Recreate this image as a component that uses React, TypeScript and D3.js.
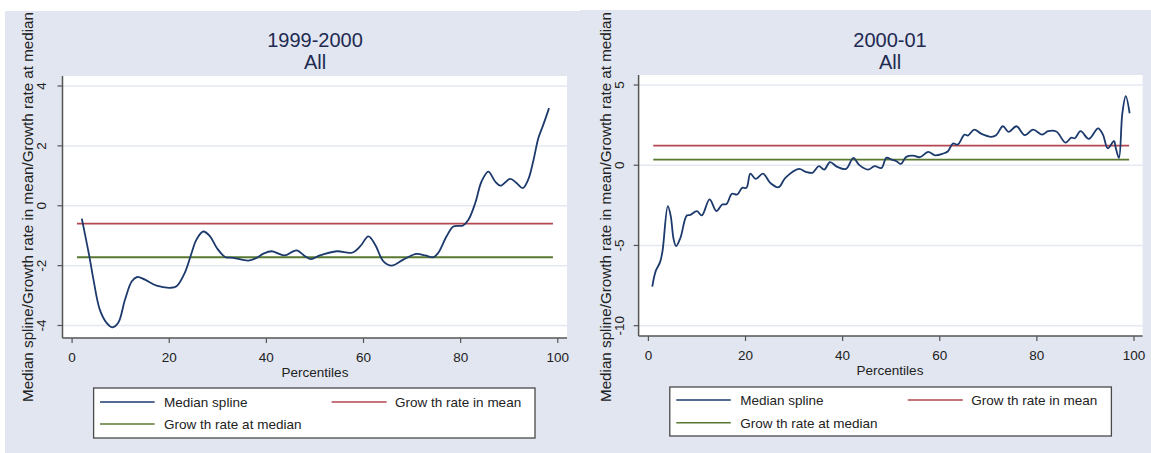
import React from "react";
import * as d3 from "d3";

// ---- Data ----
const titles1 = ["1999-2000", "All"];
const titles2 = ["2000-01", "All"];
const xTicks = [0, 20, 40, 60, 80, 100];
const yTicks1 = [-4, -2, 0, 2, 4];
const yTicks2 = [-10, -5, 0, 5];
const yTickLabels1 = ["-4", "-2", "0", "2", "4"];
const yTickLabels2 = ["-10", "-5", "0", "5"];

const pct1 = [2.0, 3.55, 4.4, 5.7, 7.1, 8.3, 9.5, 10.9, 12.3, 13.4, 15.0, 17.4, 20.2, 21.5, 23.2, 24.6, 25.6, 27.0, 28.4, 29.8, 31.5, 33.2, 36.3, 38.0, 39.4, 41.1, 42.5, 43.8, 46.2, 48.0, 49.2, 51.0, 54.5, 57.6, 59.3, 61.0, 62.4, 64.1, 65.8, 68.2, 70.9, 72.7, 74.4, 75.4, 77.1, 78.5, 80.5, 81.6, 83.0, 84.3, 85.7, 87.1, 88.2, 90.2, 91.5, 92.8, 93.9, 95.0, 96.0, 97.0, 98.2];
const val1 = [-0.43, -1.69, -2.47, -3.47, -3.91, -4.06, -3.91, -3.13, -2.52, -2.38, -2.47, -2.67, -2.74, -2.69, -2.24, -1.58, -1.13, -0.86, -1.02, -1.41, -1.71, -1.74, -1.83, -1.74, -1.6, -1.52, -1.6, -1.66, -1.49, -1.69, -1.78, -1.66, -1.52, -1.57, -1.36, -1.02, -1.3, -1.86, -2.0, -1.8, -1.61, -1.66, -1.72, -1.57, -1.02, -0.69, -0.66, -0.47, 0.09, 0.81, 1.14, 0.81, 0.67, 0.9, 0.76, 0.59, 0.87, 1.53, 2.26, 2.7, 3.26];
const mean1 = -0.6;
const median1 = -1.72;

const pct2 = [0.8, 1.5, 2.4, 2.9, 4.0, 4.6, 5.2, 5.7, 6.6, 7.9, 8.6, 10.0, 11.0, 12.6, 14.0, 15.2, 16.1, 17.2, 18.3, 19.3, 20.2, 21.0, 22.1, 23.6, 25.1, 26.8, 28.2, 31.0, 32.4, 33.8, 35.1, 36.2, 37.4, 38.9, 40.7, 42.2, 43.4, 45.2, 46.6, 48.0, 49.0, 50.1, 51.1, 52.0, 53.1, 54.5, 55.9, 57.6, 59.0, 60.7, 61.7, 62.7, 63.7, 65.1, 65.8, 67.1, 68.6, 70.6, 71.6, 73.0, 74.2, 75.8, 77.5, 79.2, 81.1, 82.3, 84.0, 85.9, 87.1, 87.8, 89.0, 90.7, 92.6, 93.6, 94.6, 95.9, 96.2, 96.9, 97.6, 98.3, 99.1];
const val2 = [-7.57, -6.6, -6.04, -5.36, -2.55, -3.17, -4.62, -5.04, -4.52, -3.13, -3.1, -2.86, -3.13, -2.13, -2.86, -2.45, -2.41, -1.78, -1.82, -1.41, -1.41, -0.52, -0.85, -0.52, -1.1, -1.37, -0.79, -0.23, -0.41, -0.47, -0.06, -0.27, 0.19, -0.1, -0.23, 0.46, 0.02, -0.27, -0.06, -0.17, 0.46, 0.35, 0.25, 0.08, 0.52, 0.6, 0.5, 0.83, 0.62, 0.73, 0.87, 1.35, 1.29, 1.91, 1.85, 2.22, 1.95, 1.77, 1.87, 2.43, 2.08, 2.43, 1.87, 2.22, 1.91, 2.12, 2.1, 1.41, 1.72, 1.68, 2.12, 1.64, 2.3, 1.91, 1.06, 1.51, 1.14, 0.46, 3.24, 4.31, 3.24];
const mean2 = 1.22;
const median2 = 0.35;

const refStart = 1;
const refEnd = 99;

const legendLabels = ["Median spline", "Grow th rate in mean", "Grow th rate at median"];
const yTitle = "Median spline/Growth rate in mean/Growth rate at median";
const xTitle = "Percentiles";

// ---- Styles ----
const FONT = "'Liberation Sans', Arial, Helvetica, sans-serif";
const BG = "#e1e6f0";
const GRID = "#e4e8f1";
const NAVY = "#1d3a6d";
const RED = "#b3464f";
const GREEN = "#58782f";
const TITLE_COL = "#1e2a52";
const TEXT_COL = "#222";
const AXIS_COL = "#555";

type PanelCfg = {
  bg: [number, number, number, number];
  plot: { l: number; r: number; t: number; b: number };
  xr: [number, number];
  yd: [number, number];
  yr: [number, number];
  titleX: number;
  yTitleX: number;
  yLabX: number;
  xLabY: number;
  xTitleY: number;
  legend: { x: number; y: number; w: number; h: number; r1: number; r2: number };
};

function Panel({ cfg, titles, pct, val, mean, median, yTicks, yLabels }: {
  cfg: PanelCfg; titles: string[]; pct: number[]; val: number[]; mean: number; median: number; yTicks: number[]; yLabels: string[];
}) {
  const x = d3.scaleLinear().domain([0, 100]).range(cfg.xr);
  const y = d3.scaleLinear().domain(cfg.yd).range(cfg.yr);
  const pts: [number, number][] = pct.map((p, i) => [p, val[i]]);
  const line = d3
    .line<[number, number]>()
    .x((d) => x(d[0]))
    .y((d) => y(d[1]))
    .curve(d3.curveCatmullRom.alpha(0.5));
  const { l, r, t, b } = cfg.plot;
  const L = cfg.legend;
  return (
    <g>
      <rect x={cfg.bg[0]} y={cfg.bg[1]} width={cfg.bg[2]} height={cfg.bg[3]} fill={BG} />
      <rect x={l} y={t} width={r - l} height={b - t} fill="#fff" />
      {yTicks.map((v) => (
        <line key={"g" + v} x1={l} x2={r} y1={y(v)} y2={y(v)} stroke={GRID} strokeWidth={1.5} />
      ))}
      {/* axes */}
      <line x1={l} x2={l} y1={t} y2={b} stroke={AXIS_COL} strokeWidth={1.5} />
      <line x1={l} x2={r} y1={b} y2={b} stroke={AXIS_COL} strokeWidth={1.5} />
      {yTicks.map((v, i) => (
        <g key={"yt" + v}>
          <line x1={l - 5} x2={l} y1={y(v)} y2={y(v)} stroke={AXIS_COL} strokeWidth={1.2} />
          <text
            transform={`translate(${cfg.yLabX},${y(v)}) rotate(-90)`}
            textAnchor="middle"
            fontSize={13.5}
            fill={TEXT_COL}
            fontFamily={FONT}
          >
            {yLabels[i]}
          </text>
        </g>
      ))}
      {xTicks.map((v) => (
        <g key={"xt" + v}>
          <line x1={x(v)} x2={x(v)} y1={b} y2={b + 5} stroke={AXIS_COL} strokeWidth={1.2} />
          <text x={x(v)} y={cfg.xLabY} textAnchor="middle" fontSize={13.5} fill={TEXT_COL} fontFamily={FONT}>
            {v}
          </text>
        </g>
      ))}
      {/* reference lines */}
      <line x1={x(refStart)} x2={x(refEnd)} y1={y(mean)} y2={y(mean)} stroke={RED} strokeWidth={1.8} />
      <line x1={x(refStart)} x2={x(refEnd)} y1={y(median)} y2={y(median)} stroke={GREEN} strokeWidth={1.8} />
      <path d={line(pts) || ""} fill="none" stroke={NAVY} strokeWidth={1.8} />
      {/* titles */}
      <text x={cfg.titleX} y={47} textAnchor="middle" fontSize={20} fill={TITLE_COL} fontFamily={FONT}>
        {titles[0]}
      </text>
      <text x={cfg.titleX} y={69} textAnchor="middle" fontSize={20} fill={TITLE_COL} fontFamily={FONT}>
        {titles[1]}
      </text>
      <text x={cfg.titleX} y={cfg.xTitleY} textAnchor="middle" fontSize={13.5} fill={TEXT_COL} fontFamily={FONT}>
        {xTitle}
      </text>
      <text
        transform={`translate(${cfg.yTitleX},207) rotate(-90)`}
        textAnchor="middle"
        fontSize={15.2}
        fill={TEXT_COL}
        fontFamily={FONT}
      >
        {yTitle}
      </text>
      {/* legend */}
      <rect x={L.x} y={L.y} width={L.w} height={L.h} fill="#fff" stroke="#4a4a4a" strokeWidth={1.3} />
      <line x1={L.x + 6.5} x2={L.x + 61} y1={L.r1} y2={L.r1} stroke={NAVY} strokeWidth={1.6} />
      <text x={L.x + 70.5} y={L.r1 + 5} fontSize={13.5} fill={TEXT_COL} fontFamily={FONT}>
        {legendLabels[0]}
      </text>
      <line x1={L.x + 238} x2={L.x + 293} y1={L.r1} y2={L.r1} stroke={RED} strokeWidth={1.6} />
      <text x={L.x + 301.5} y={L.r1 + 5} fontSize={13.5} fill={TEXT_COL} fontFamily={FONT}>
        {legendLabels[1]}
      </text>
      <line x1={L.x + 6.5} x2={L.x + 61} y1={L.r2} y2={L.r2} stroke={GREEN} strokeWidth={1.6} />
      <text x={L.x + 70.5} y={L.r2 + 5} fontSize={13.5} fill={TEXT_COL} fontFamily={FONT}>
        {legendLabels[2]}
      </text>
    </g>
  );
}

const cfg1: PanelCfg = {
  bg: [5, 11, 575, 442],
  plot: { l: 62.5, r: 567, t: 76, b: 338 },
  xr: [72.1, 557.8],
  yd: [-4, 4],
  yr: [325.5, 86],
  titleX: 315,
  yTitleX: 33,
  yLabX: 45.5,
  xLabY: 362,
  xTitleY: 377,
  legend: { x: 93.6, y: 388, w: 441.4, h: 50, r1: 402, r2: 424 },
};

const cfg2: PanelCfg = {
  bg: [580, 10, 571, 443],
  plot: { l: 638.6, r: 1142.6, t: 75, b: 336 },
  xr: [648.4, 1134],
  yd: [-10, 5],
  yr: [325.7, 85],
  titleX: 890,
  yTitleX: 611,
  yLabX: 624,
  xLabY: 360,
  xTitleY: 375,
  legend: { x: 669.8, y: 387, w: 441.6, h: 49, r1: 400, r2: 422.7 },
};

export default function App() {
  return (
    <svg
      width={1151}
      height={453}
      style={{ position: "absolute", left: 0, top: 0, display: "block", background: "#fff" }}
    >
      <Panel cfg={cfg1} titles={titles1} pct={pct1} val={val1} mean={mean1} median={median1} yTicks={yTicks1} yLabels={yTickLabels1} />
      <Panel cfg={cfg2} titles={titles2} pct={pct2} val={val2} mean={mean2} median={median2} yTicks={yTicks2} yLabels={yTickLabels2} />
    </svg>
  );
}
